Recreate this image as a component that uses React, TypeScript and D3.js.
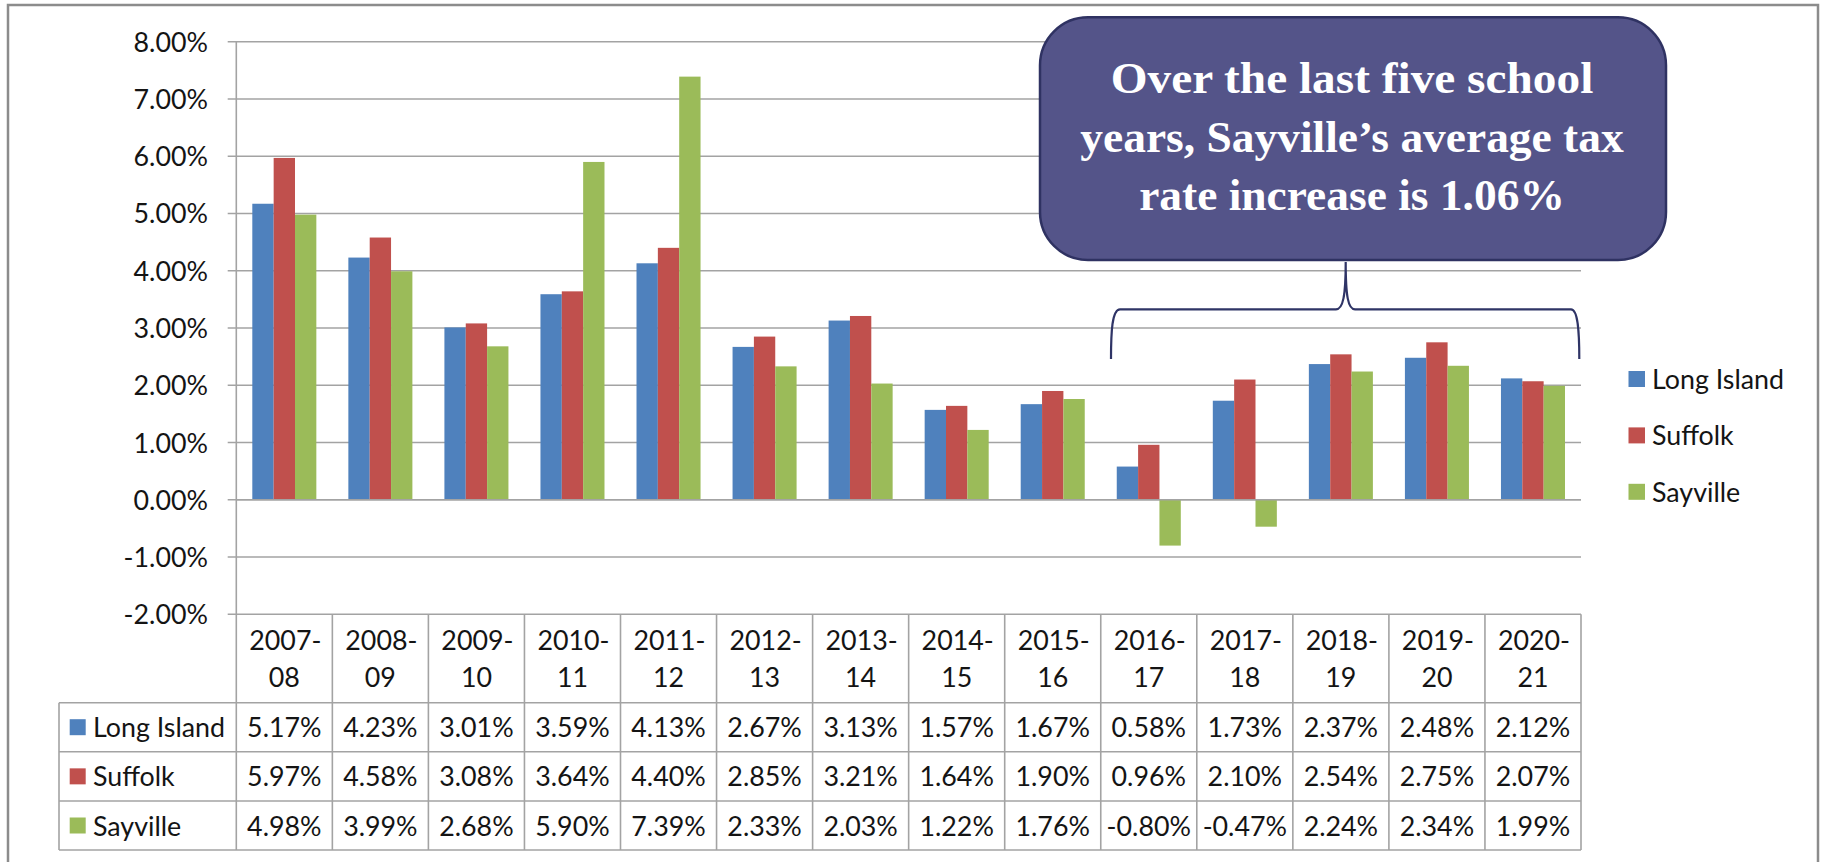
import React from "react";
import * as d3 from "d3";

const categories = ["2007-08","2008-09","2009-10","2010-11","2011-12","2012-13","2013-14","2014-15","2015-16","2016-17","2017-18","2018-19","2019-20","2020-21"];
const seriesNames = ["Long Island", "Suffolk", "Sayville"];
const longIsland = [5.17, 4.23, 3.01, 3.59, 4.13, 2.67, 3.13, 1.57, 1.67, 0.58, 1.73, 2.37, 2.48, 2.12];
const suffolk = [5.97, 4.58, 3.08, 3.64, 4.40, 2.85, 3.21, 1.64, 1.90, 0.96, 2.10, 2.54, 2.75, 2.07];
const sayville = [4.98, 3.99, 2.68, 5.90, 7.39, 2.33, 2.03, 1.22, 1.76, -0.80, -0.47, 2.24, 2.34, 1.99];
const yTicks = [-2, -1, 0, 1, 2, 3, 4, 5, 6, 7, 8];
const calloutLines = ["Over the last five school", "years, Sayville\u2019s average tax", "rate increase is 1.06%"];

const seriesValues = [longIsland, suffolk, sayville];
const colors = ["#4F81BD", "#C0504D", "#9BBB59"];

const W = 1822, H = 862;
const plotLeft = 236.3, plotRight = 1581;
const plotTop = 41.7, plotBottom = 614.3;
const rowBounds = [614.3, 702.7, 751.7, 801, 850];
const tableLeft = 59;
const FONT = "Lato, 'Open Sans', sans-serif";
const FS = 26.8;
const gridColor = "#a3a3a3";
const textColor = "#141414";

export default function App() {
  const y = d3.scaleLinear().domain([-2, 8]).range([plotBottom, plotTop]);
  const x = d3.scaleBand<string>().domain(categories).range([plotLeft, plotRight]).paddingInner(0).paddingOuter(0);
  const bw = x.bandwidth();
  const groupW = bw / 1.5;
  const inner = d3.scaleBand<string>().domain(seriesNames).range([(bw - groupW) / 2, (bw + groupW) / 2]);
  const fmt = (v: number) => v.toFixed(2) + "%";

  return (
    <svg width={W} height={H} style={{ position: "absolute", left: 0, top: 0, background: "#fff" }}>
      <path d={`M8,${H} L8,5 L1818,5 L1818,${H}`} fill="none" stroke="#8c8c8c" strokeWidth={2.5} />

      {yTicks.map(t => (
        <line key={"g" + t} x1={plotLeft - 8.6} x2={plotRight} y1={y(t)} y2={y(t)} stroke={gridColor} strokeWidth={1.6} />
      ))}
      <line x1={plotLeft} x2={plotLeft} y1={plotTop} y2={plotBottom} stroke={gridColor} strokeWidth={1.6} />
      {yTicks.map(t => (
        <text key={"t" + t} x={208} y={y(t)} textAnchor="end" dominantBaseline="central" fontFamily={FONT} fontSize={FS} fill={textColor}>
          {fmt(t)}
        </text>
      ))}

      {categories.map((c, i) => (
        <g key={"b" + c}>
          {seriesNames.map((s, j) => {
            const v = seriesValues[j][i];
            const y0 = y(0), y1 = y(v);
            return (
              <rect key={s} x={(x(c) as number) + (inner(s) as number)} width={inner.bandwidth()} y={Math.min(y0, y1)} height={Math.abs(y1 - y0)} fill={colors[j]} />
            );
          })}
        </g>
      ))}
      <line x1={plotLeft} x2={plotRight} y1={y(0)} y2={y(0)} stroke={gridColor} strokeWidth={1.6} />

      {rowBounds.slice(1).map((yy, i) => (
        <line key={"h" + i} x1={tableLeft} x2={plotRight} y1={yy} y2={yy} stroke={gridColor} strokeWidth={1.6} />
      ))}
      <line x1={tableLeft} x2={tableLeft} y1={rowBounds[1]} y2={rowBounds[4]} stroke={gridColor} strokeWidth={1.6} />
      {categories.map((c, i) => (
        <line key={"v" + i} x1={x(c) as number} x2={x(c) as number} y1={rowBounds[0]} y2={rowBounds[4]} stroke={gridColor} strokeWidth={1.6} />
      ))}
      <line x1={plotRight} x2={plotRight} y1={rowBounds[0]} y2={rowBounds[4]} stroke={gridColor} strokeWidth={1.6} />

      {categories.map(c => {
        const [a, b] = c.split("-");
        const cx = (x(c) as number) + bw / 2;
        return (
          <g key={"c" + c} fontFamily={FONT} fontSize={FS} fill={textColor} textAnchor="middle">
            <text x={cx + 1} y={640} dominantBaseline="central">{a + "-"}</text>
            <text x={cx} y={677} dominantBaseline="central">{b}</text>
          </g>
        );
      })}

      {seriesNames.map((s, j) => {
        const cy = (rowBounds[j + 1] + rowBounds[j + 2]) / 2;
        return (
          <g key={"r" + s}>
            <rect x={69.7} y={cy - 8} width={16} height={16} fill={colors[j]} />
            <text x={93} y={cy} dominantBaseline="central" fontFamily={FONT} fontSize={FS} fill={textColor}>{s}</text>
            {categories.map((c, i) => (
              <text key={c} x={(x(c) as number) + bw / 2} y={cy} textAnchor="middle" dominantBaseline="central" fontFamily={FONT} fontSize={FS} fill={textColor}>
                {fmt(seriesValues[j][i])}
              </text>
            ))}
          </g>
        );
      })}

      {seriesNames.map((s, j) => {
        const cy = 379 + j * 56.4;
        return (
          <g key={"l" + s}>
            <rect x={1628.5} y={cy - 8} width={16.5} height={16} fill={colors[j]} />
            <text x={1652} y={cy} dominantBaseline="central" fontFamily={FONT} fontSize={FS} fill={textColor}>{s}</text>
          </g>
        );
      })}

      <path d="M1111,359 C1111,332 1112,309.3 1120,309.3 L1336,309.3 C1343,309.3 1345.7,296 1345.7,262 C1345.7,296 1348,309.3 1355,309.3 L1571,309.3 C1578,309.3 1579.3,332 1579.3,359"
        fill="none" stroke="#2f3466" strokeWidth={2.2} />

      <rect x={1040} y={17.3} width={626} height={242.7} rx={48} ry={48} fill="#545489" stroke="#2f3262" strokeWidth={2.5} />
      {calloutLines.map((l, i) => {
        const lens = [482.6, 543.3, 425.7];
        return (
          <text key={"co" + i} x={1352} y={93.3 + i * 58.3} textAnchor="middle" fontFamily="'Liberation Serif', 'DejaVu Serif', serif" fontWeight="bold" fontSize={45}
            fill="#ffffff" textLength={lens[i]} lengthAdjust="spacingAndGlyphs">
            {l}
          </text>
        );
      })}
    </svg>
  );
}
